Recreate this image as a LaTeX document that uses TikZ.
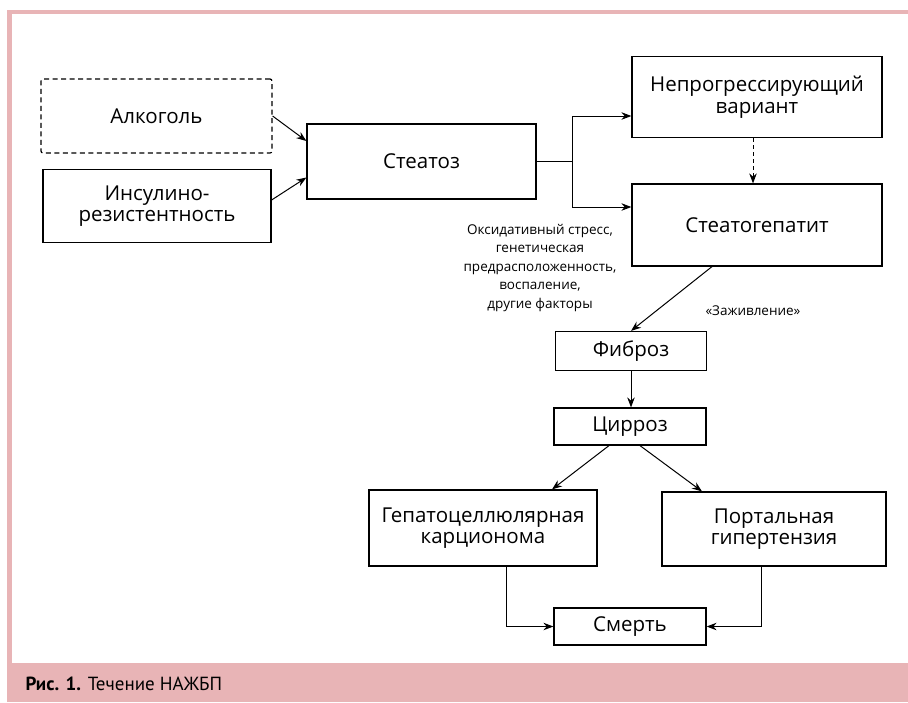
\documentclass[tikz,border=0pt]{standalone}
\usepackage{fontspec}
\setmainfont{Open Sans}
\newfontfamily\capfont{PT Sans}
\usepackage{xcolor,tikz}
\usetikzlibrary{arrows.meta,positioning,calc}
\definecolor{rozov}{HTML}{E8B4B6}

\begin{document}
\begin{tikzpicture}[x=1pt,y=-1pt,
 blok/.style={draw,line width=1.2pt,align=center,inner sep=0pt,font=\fontsize{20.5}{21.5}\selectfont},
 strel/.style={line width=1pt,-{Stealth[length=10pt,width=7.5pt]}},
 melk/.style={align=center,font=\fontsize{13.5}{18.5}\selectfont}]
\useasboundingbox (0,0) rectangle (908,702);
\fill[rozov] (7,10) rectangle (908,14); \fill[rozov] (7,10) rectangle (12,663);
\fill[rozov] (7,663) rectangle (908,702);
\node[anchor=base west,font=\capfont\fontsize{19}{20}\selectfont] (cap) at (22,690) {\textbf{Рис. 1.} Течение НАЖБП};
\node[blok,dashed,dash pattern=on 5pt off 3.5pt,rounded corners=2pt,minimum width=231pt,minimum height=74pt] (alk) at (156.5,116) {Алкоголь};
\node[blok,minimum width=228pt,minimum height=73pt] (ins) at (157,206) {Инсулино-\\резистентность};
\node[blok,minimum width=229pt,minimum height=75pt] (steat) at (421.5,161.5) {Стеатоз};
\node[blok,minimum width=250pt,minimum height=81pt] (nonprog) at (757,97) {Непрогрессирующий\\вариант};
\node[blok,minimum width=250pt,minimum height=82pt] (sth) at (757,225) {Стеатогепатит};
\node[melk] (faktor) at (540,268) {Оксидативный стресс,\\генетическая\\предрасположенность,\\воспаление,\\другие факторы};
\node[melk,anchor=west] (zazh) at (702,311) {«Заживление»};
\node[blok,minimum width=151pt,minimum height=39pt] (fib) at (631,351) {Фиброз};
\node[blok,minimum width=152pt,minimum height=37pt] (cir) at (630,426.5) {Цирроз};
\node[blok,minimum width=228pt,minimum height=76pt] (hcc) at (483,528) {Гепатоцеллюлярная\\карционома};
\node[blok,minimum width=224pt,minimum height=74pt] (port) at (774,529) {Портальная\\гипертензия};
\node[blok,minimum width=152pt,minimum height=37pt] (death) at (630,626.5) {Смерть};
\coordinate (razv) at (572,161.5);
\draw[strel] (alk.east) -- ([yshift=20.5pt]steat.west);
\draw[strel] ([yshift=6pt]ins.east) -- ([yshift=-16pt]steat.west);
\draw[line width=1pt] (steat.east) -- (razv);
\draw[strel] (razv) |- ([yshift=-19pt]nonprog.west);
\draw[strel] (razv) |- ([yshift=18pt]sth.west);
\draw[strel,dashed,dash pattern=on 4pt off 3pt] ([xshift=-4pt]nonprog.south) -- ([xshift=-4pt]sth.north);
\draw[strel] ([xshift=-45pt]sth.south) -- (fib.north);
\draw[strel] (fib.south) -- ([xshift=1pt]cir.north);
\draw[strel] ([xshift=-21pt]cir.south) -- ([xshift=69pt]hcc.north);
\draw[strel] ([xshift=10pt]cir.south) -- ([xshift=-72pt]port.north);
\draw[strel] ([xshift=23pt]hcc.south) |- (death.west);
\draw[strel] ([xshift=-13pt]port.south) |- (death.east);
\end{tikzpicture}
\end{document}
